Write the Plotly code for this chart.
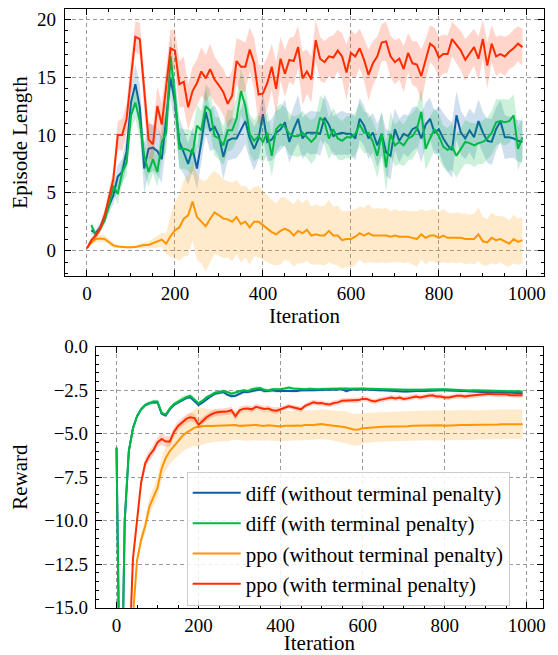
import numpy as np
import plotly.graph_objects as go

iterations = list(range(0, 1000, 10))

# ---------- Episode length (top) ----------
diff_nopen_len = [
    None, 1.75, 1.5, 2.0, 2.9, 3.9, 4.8, 6.4, 6.8, 8.6,
    12.8, 14.4, 12.4, 7.1, 8.8, 8.9, 8.6, 7.9, 11.2, 14.9,
    12.8, 9.4, 8.5, 7.5, 8.8, 7.1, 9.4, 12.0, 10.4, 10.7,
    9.9, 8.1, 9.5, 9.7, 9.7, 10.4, 11.2, 9.7, 8.8, 9.7,
    11.8, 9.4, 9.6, 10.2, 10.5, 11.1, 9.4, 10.5, 11.4, 9.7,
    10.2, 10.2, 10.2, 10.1, 11.5, 10.9, 9.9, 10.1, 10.2, 10.1,
    10.1, 9.7, 11.4, 10.8, 9.7, 10.2, 9.1, 10.1, 8.5, 8.2,
    10.5, 9.5, 10.1, 9.9, 10.5, 10.7, 9.7, 10.9, 11.4, 10.2,
    10.5, 9.7, 9.1, 8.7, 11.7, 10.2, 9.7, 10.4, 9.8, 11.2,
    10.2, 9.5, 9.4, 10.5, 11.2, 9.8, 9.8, 9.7, 9.5, 9.4]
diff_nopen_len_std = [
    None, 0.3, 0.3, 0.4, 0.5, 0.6, 0.8, 1.0, 1.1, 1.3,
    1.5, 1.7, 2.0, 2.1, 2.2, 2.0, 2.1, 2.0, 1.9, 1.8,
    2.0, 2.1, 1.9, 1.8, 1.9, 1.8, 1.9, 2.0, 1.8, 1.9,
    1.8, 1.9, 1.7, 1.8, 1.7, 1.9, 2.0, 1.8, 1.9, 1.8,
    1.9, 1.7, 1.8, 1.9, 1.8, 2.0, 1.8, 1.9, 2.1, 1.8,
    1.7, 1.9, 1.8, 1.9, 2.0, 1.8, 1.7, 1.8, 1.9, 1.8,
    1.8, 1.9, 1.8, 1.7, 1.8, 1.7, 1.9, 1.8, 2.0, 2.1,
    1.8, 1.9, 1.7, 1.8, 1.9, 1.8, 2.1, 1.9, 1.8, 1.9,
    2.0, 2.2, 2.3, 2.4, 2.1, 1.9, 1.8, 1.9, 2.0, 1.9,
    1.8, 1.9, 2.0, 1.9, 1.8, 1.9, 1.8, 1.7, 1.8, 1.8]

diff_pen_len = [
    None, 2.2, 1.3, 1.9, 2.6, 3.9, 5.6, 4.9, 6.8, 7.6,
    11.7, 12.8, 11.2, 8.2, 6.8, 7.9, 6.8, 9.4, 10.2, 16.8,
    13.4, 8.8, 8.8, 8.7, 8.4, 10.8, 10.4, 12.5, 12.1, 9.9,
    9.7, 9.1, 10.4, 10.4, 11.4, 13.8, 12.5, 10.1, 9.5, 9.9,
    9.4, 10.2, 8.2, 10.5, 10.9, 10.7, 10.1, 9.9, 9.9, 10.2,
    9.8, 9.4, 9.8, 11.5, 11.1, 9.7, 10.5, 9.7, 9.5, 9.8,
    9.8, 10.1, 10.9, 10.2, 10.2, 9.4, 8.2, 10.1, 7.2, 10.1,
    9.1, 9.4, 9.1, 9.7, 9.9, 10.5, 12.0, 8.8, 9.7, 10.5,
    9.9, 9.0, 8.7, 9.0, 8.2, 8.8, 9.4, 9.3, 9.1, 9.3,
    9.4, 9.7, 10.2, 11.1, 11.2, 11.1, 11.2, 11.7, 8.8, 9.8]
diff_pen_len_std = [
    None, 0.3, 0.3, 0.3, 0.4, 0.6, 0.7, 0.9, 1.0, 1.1,
    1.3, 1.4, 1.5, 1.4, 1.3, 1.2, 1.3, 1.5, 1.7, 1.8,
    2.0, 1.8, 1.7, 1.8, 1.9, 1.8, 1.7, 1.9, 1.8, 1.7,
    1.8, 1.7, 1.8, 1.7, 1.9, 2.0, 1.8, 1.7, 1.8, 1.9,
    1.8, 1.9, 1.8, 1.9, 1.8, 1.7, 1.8, 1.7, 1.8, 1.9,
    1.8, 1.9, 1.8, 1.9, 2.0, 1.8, 1.9, 1.8, 1.7, 1.8,
    1.9, 1.8, 1.9, 1.8, 1.7, 1.8, 1.9, 2.0, 2.1, 1.9,
    1.8, 1.9, 1.8, 1.9, 2.0, 1.9, 2.0, 1.8, 1.9, 1.8,
    1.9, 1.8, 1.9, 2.0, 1.9, 1.8, 1.9, 1.8, 1.9, 1.8,
    1.9, 1.8, 1.9, 2.0, 1.9, 2.0, 1.9, 1.8, 1.9, 1.8]

ppo_nopen_len = [
    0.2, 0.7, 1.0, 1.05, 1.0, 0.75, 0.45, 0.35, 0.3, 0.28,
    0.28, 0.3, 0.4, 0.48, 0.48, 0.63, 0.75, 0.95, 0.6, 1.26,
    1.75, 2.0, 2.76, 3.05, 4.25, 2.9, 2.5, 2.1, 2.76, 3.3,
    3.05, 2.76, 2.7, 2.5, 2.9, 2.3, 2.5, 2.0, 2.5, 2.5,
    2.2, 1.9, 1.6, 1.4, 1.7, 1.9, 1.7, 1.3, 1.7, 1.5,
    1.8, 1.3, 1.4, 1.3, 1.3, 1.7, 1.3, 1.3, 0.9, 1.0,
    1.0, 1.2, 1.5, 1.3, 1.5, 1.3, 1.3, 1.3, 1.3, 1.2,
    1.3, 1.2, 1.2, 1.2, 1.1, 1.0, 1.4, 1.1, 1.3, 1.3,
    1.1, 1.3, 1.1, 1.1, 1.1, 1.1, 1.0, 1.0, 1.0, 1.4,
    0.8, 0.7, 1.1, 0.9, 1.0, 0.8, 0.6, 1.0, 0.75, 0.9]
ppo_nopen_len_std = [
    0.05, 0.2, 0.3, 0.3, 0.3, 0.25, 0.2, 0.15, 0.1, 0.1,
    0.1, 0.15, 0.2, 0.25, 0.3, 0.4, 0.5, 0.6, 0.9, 1.8,
    2.4, 2.9, 3.3, 3.5, 3.4, 3.7, 3.6, 3.9, 3.8, 3.6,
    3.5, 3.4, 3.3, 3.4, 3.2, 3.3, 3.1, 3.2, 3.0, 3.1,
    3.0, 2.9, 2.8, 2.7, 2.9, 2.7, 2.6, 2.7, 2.8, 2.6,
    2.7, 2.5, 2.6, 2.5, 2.6, 2.7, 2.5, 2.6, 2.5, 2.4,
    2.5, 2.4, 2.3, 2.4, 2.5, 2.3, 2.4, 2.3, 2.4, 2.2,
    2.3, 2.2, 2.3, 2.2, 2.3, 2.4, 2.2, 2.3, 2.2, 2.3,
    2.2, 2.3, 2.2, 2.1, 2.2, 2.1, 2.2, 2.1, 2.2, 2.3,
    2.1, 2.0, 2.2, 2.1, 2.0, 2.1, 2.0, 2.1, 2.0, 2.0]

ppo_pen_len = [
    0.2, 0.9, 1.3, 1.9, 3.0, 4.5, 6.2, 10.0, 10.0, 11.4,
    15.2, 18.5, 18.3, 13.7, 9.6, 9.2, 12.5, 10.9, 14.0, 17.5,
    17.3, 14.4, 14.6, 12.4, 13.8, 14.5, 15.5, 14.9, 15.7, 14.8,
    14.3, 13.7, 12.7, 13.4, 16.4, 15.9, 15.9, 17.4, 16.2, 13.5,
    13.6, 14.5, 15.9, 14.0, 16.6, 15.3, 16.5, 16.4, 17.6, 14.9,
    15.5, 14.8, 18.2, 16.6, 16.3, 16.8, 16.7, 17.3, 16.8, 15.4,
    17.1, 16.8, 17.5, 16.5, 15.2, 16.2, 16.8, 18.0, 18.1, 16.8,
    16.3, 16.6, 15.7, 17.1, 16.2, 16.1, 15.1, 16.5, 17.9, 17.6,
    16.7, 17.0, 17.0, 18.3, 17.8, 17.3, 16.5, 17.1, 17.6, 16.6,
    18.3, 16.0, 17.9, 16.8, 17.0, 16.8, 17.2, 17.5, 17.9, 17.6]
ppo_pen_len_std = [
    0.1, 0.2, 0.3, 0.4, 0.5, 0.7, 0.9, 1.2, 1.4, 1.3,
    1.5, 1.3, 1.4, 1.8, 1.6, 1.5, 1.7, 1.8, 1.7, 1.6,
    1.8, 2.0, 2.2, 2.0, 2.1, 2.0, 2.1, 2.0, 2.2, 2.0,
    1.9, 2.0, 2.1, 2.2, 2.0, 2.3, 2.1, 1.9, 2.2, 2.6,
    2.4, 2.2, 2.0, 2.3, 1.9, 2.0, 1.9, 2.1, 1.8, 2.3,
    1.9, 2.0, 1.8, 1.9, 1.8, 1.7, 1.9, 1.8, 2.0, 2.4,
    2.0, 1.9, 1.7, 1.8, 2.2, 1.9, 1.7, 1.6, 1.7, 1.8,
    1.9, 1.8, 2.0, 1.7, 1.9, 2.0, 2.3, 1.8, 1.6, 1.7,
    1.8, 1.7, 1.6, 1.5, 1.6, 1.7, 1.8, 1.7, 1.6, 1.9,
    1.7, 2.0, 1.6, 1.7, 1.6, 1.7, 1.5, 1.6, 1.5, 1.6]

# ---------- Reward (bottom) ----------
diff_nopen_rew = [
    -5.8, -24.0, -10.0, -6.0, -4.7, -4.0, -3.6, -3.35, -3.25, -3.2,
    -3.2, -3.85, -3.95, -3.6, -3.35, -3.2, -3.05, -2.95, -2.9, -3.1,
    -3.35, -3.2, -3.0, -2.85, -2.7, -2.65, -2.6, -2.75, -2.85, -2.82,
    -2.7, -2.6, -2.6, -2.55, -2.5, -2.45, -2.55, -2.55, -2.5, -2.55,
    -2.54, -2.55, -2.52, -2.57, -2.55, -2.5, -2.52, -2.5, -2.5, -2.48,
    -2.5, -2.48, -2.47, -2.45, -2.46, -2.44, -2.55, -2.48, -2.46, -2.45,
    -2.44, -2.46, -2.47, -2.5, -2.5, -2.5, -2.52, -2.55, -2.56, -2.55,
    -2.58, -2.57, -2.55, -2.55, -2.53, -2.55, -2.53, -2.5, -2.5, -2.5,
    -2.5, -2.52, -2.54, -2.55, -2.55, -2.55, -2.57, -2.58, -2.58, -2.6,
    -2.6, -2.62, -2.62, -2.61, -2.62, -2.63, -2.64, -2.65, -2.66, -2.68]
diff_pen_rew = [
    -5.8, -24.0, -10.0, -6.0, -4.7, -4.0, -3.6, -3.35, -3.25, -3.15,
    -3.15, -3.8, -3.9, -3.55, -3.3, -3.15, -3.0, -2.9, -2.83, -3.05,
    -3.25, -3.1, -2.9, -2.78, -2.65, -2.6, -2.55, -2.6, -2.7, -2.63,
    -2.55, -2.5, -2.55, -2.45, -2.4, -2.37, -2.48, -2.52, -2.45, -2.45,
    -2.44, -2.4, -2.35, -2.4, -2.42, -2.44, -2.44, -2.42, -2.44, -2.44,
    -2.43, -2.42, -2.41, -2.4, -2.4, -2.38, -2.4, -2.42, -2.4, -2.4,
    -2.4, -2.41, -2.42, -2.43, -2.44, -2.44, -2.45, -2.47, -2.48, -2.47,
    -2.5, -2.48, -2.47, -2.48, -2.46, -2.47, -2.46, -2.45, -2.44, -2.44,
    -2.45, -2.46, -2.48, -2.5, -2.5, -2.52, -2.52, -2.5, -2.51, -2.52,
    -2.54, -2.54, -2.55, -2.55, -2.55, -2.55, -2.56, -2.56, -2.57, -2.58]
ppo_nopen_rew = [
    -48.0, -38.0, -28.0, -20.5, -15.5, -12.3, -11.1, -10.3, -9.2, -8.6,
    -8.1, -7.0, -6.4, -6.0, -5.7, -5.4, -5.15, -4.95, -4.8, -4.65,
    -4.6, -4.57, -4.55, -4.56, -4.55, -4.54, -4.52, -4.55, -4.53, -4.5,
    -4.55, -4.53, -4.55, -4.52, -4.5, -4.53, -4.55, -4.52, -4.55, -4.57,
    -4.58, -4.55, -4.57, -4.55, -4.53, -4.54, -4.5, -4.52, -4.5, -4.47,
    -4.45, -4.48, -4.5, -4.53, -4.57, -4.6, -4.64, -4.7, -4.77, -4.76,
    -4.69, -4.67, -4.64, -4.63, -4.62, -4.6, -4.6, -4.6, -4.59, -4.58,
    -4.58, -4.57, -4.55, -4.54, -4.53, -4.52, -4.53, -4.52, -4.53, -4.52,
    -4.54, -4.52, -4.51, -4.52, -4.5, -4.5, -4.5, -4.51, -4.49, -4.48,
    -4.48, -4.47, -4.48, -4.47, -4.46, -4.45, -4.46, -4.45, -4.45, -4.45]
ppo_pen_rew = [
    -45.0, -35.0, -26.0, -18.5, -12.2, -10.0, -7.8, -6.7, -6.25, -5.95,
    -5.5, -5.3, -5.45, -5.45, -4.9, -4.55, -4.35, -4.15, -4.05, -4.1,
    -4.48, -4.25, -4.05, -3.9, -3.8, -3.75, -3.75, -3.72, -3.65, -4.0,
    -3.65, -3.56, -3.55, -3.6, -3.46, -3.52, -3.58, -3.55, -3.65, -3.68,
    -3.6, -3.5, -3.43, -3.48, -3.55, -3.6, -3.4, -3.3, -3.2, -3.25,
    -3.24, -3.3, -3.32, -3.24, -3.2, -3.1, -3.1, -3.07, -3.1, -3.07,
    -3.0, -3.0, -3.1, -3.15, -3.07, -3.0, -2.97, -2.92, -2.97, -2.92,
    -3.0, -2.97, -2.92, -2.86, -2.92, -2.86, -2.82, -2.79, -2.86, -2.86,
    -2.92, -2.92, -2.86, -2.82, -2.82, -2.86, -2.82, -2.79, -2.77, -2.77,
    -2.73, -2.7, -2.73, -2.73, -2.77, -2.73, -2.79, -2.77, -2.79, -2.79]

diff_nopen_rew_std = [
    0.3, 0.5, 0.4, 0.3, 0.2, 0.15, 0.12, 0.1, 0.1, 0.1,
    0.1, 0.1, 0.1, 0.1, 0.1, 0.1, 0.1, 0.1, 0.1, 0.1,
    0.1, 0.1, 0.1, 0.1, 0.1, 0.1, 0.1, 0.1, 0.1, 0.1,
    0.1, 0.1, 0.1, 0.1, 0.1, 0.1, 0.12, 0.1, 0.1, 0.1,
    0.08, 0.08, 0.08, 0.08, 0.08, 0.08, 0.08, 0.08, 0.08, 0.08,
    0.08, 0.08, 0.08, 0.08, 0.08, 0.08, 0.1, 0.08, 0.08, 0.08,
    0.08, 0.08, 0.08, 0.08, 0.08, 0.08, 0.08, 0.08, 0.08, 0.08,
    0.08, 0.08, 0.08, 0.08, 0.08, 0.08, 0.08, 0.08, 0.08, 0.08,
    0.08, 0.08, 0.08, 0.08, 0.08, 0.08, 0.08, 0.08, 0.08, 0.08,
    0.08, 0.08, 0.08, 0.08, 0.08, 0.08, 0.08, 0.08, 0.08, 0.08]
diff_pen_rew_std = [
    0.3, 0.5, 0.4, 0.3, 0.2, 0.15, 0.12, 0.12, 0.12, 0.12,
    0.1, 0.1, 0.1, 0.1, 0.12, 0.14, 0.15, 0.14, 0.12, 0.1,
    0.1, 0.1, 0.1, 0.1, 0.1, 0.1, 0.1, 0.1, 0.1, 0.1,
    0.1, 0.1, 0.1, 0.1, 0.12, 0.1, 0.1, 0.1, 0.1, 0.1,
    0.08, 0.08, 0.08, 0.08, 0.08, 0.08, 0.08, 0.08, 0.08, 0.08,
    0.08, 0.08, 0.08, 0.08, 0.08, 0.08, 0.08, 0.08, 0.08, 0.08,
    0.08, 0.08, 0.08, 0.08, 0.08, 0.08, 0.08, 0.08, 0.08, 0.08,
    0.08, 0.08, 0.08, 0.08, 0.08, 0.08, 0.08, 0.08, 0.08, 0.08,
    0.08, 0.08, 0.08, 0.08, 0.08, 0.08, 0.08, 0.08, 0.08, 0.08,
    0.08, 0.08, 0.08, 0.08, 0.08, 0.08, 0.08, 0.08, 0.08, 0.08]
ppo_nopen_rew_std = [
    0.5, 0.5, 0.5, 0.4, 0.35, 0.3, 0.35, 0.4, 0.5, 0.55,
    0.6, 0.65, 0.7, 0.75, 0.8, 0.85, 0.9, 0.95, 1.0, 1.05,
    1.1, 1.05, 1.0, 0.95, 0.95, 0.9, 0.9, 0.9, 0.85, 0.85,
    0.85, 0.85, 0.85, 0.85, 0.85, 0.85, 0.85, 0.85, 0.85, 0.85,
    0.85, 0.85, 0.85, 0.85, 0.85, 0.85, 0.85, 0.85, 0.85, 0.85,
    0.85, 0.85, 0.85, 0.87, 0.9, 0.9, 0.92, 0.92, 0.92, 0.9,
    0.88, 0.87, 0.86, 0.85, 0.85, 0.85, 0.85, 0.85, 0.85, 0.85,
    0.85, 0.85, 0.85, 0.85, 0.85, 0.85, 0.85, 0.85, 0.87, 0.87,
    0.87, 0.86, 0.86, 0.86, 0.87, 0.86, 0.86, 0.85, 0.85, 0.85,
    0.85, 0.85, 0.85, 0.85, 0.85, 0.85, 0.85, 0.85, 0.85, 0.85]
ppo_pen_rew_std = [
    0.4, 0.4, 0.4, 0.4, 0.4, 0.35, 0.35, 0.3, 0.3, 0.3,
    0.3, 0.35, 0.3, 0.3, 0.3, 0.25, 0.25, 0.25, 0.25, 0.25,
    0.25, 0.2, 0.2, 0.2, 0.2, 0.2, 0.2, 0.2, 0.2, 0.2,
    0.2, 0.18, 0.18, 0.18, 0.18, 0.18, 0.18, 0.18, 0.18, 0.18,
    0.15, 0.15, 0.15, 0.15, 0.15, 0.15, 0.15, 0.15, 0.15, 0.15,
    0.15, 0.15, 0.15, 0.15, 0.15, 0.15, 0.15, 0.15, 0.15, 0.15,
    0.15, 0.15, 0.15, 0.15, 0.15, 0.15, 0.15, 0.15, 0.15, 0.15,
    0.15, 0.15, 0.15, 0.15, 0.15, 0.15, 0.15, 0.15, 0.15, 0.15,
    0.15, 0.15, 0.15, 0.15, 0.15, 0.15, 0.15, 0.15, 0.15, 0.15,
    0.15, 0.15, 0.15, 0.15, 0.15, 0.15, 0.15, 0.15, 0.15, 0.15]

series_names = [
    "diff (without terminal penalty)",
    "diff (with terminal penalty)",
    "ppo (without terminal penalty)",
    "ppo (with terminal penalty)",
]
colors = ["#0C5DA5", "#00B945", "#FF9500", "#FF2C00"]
fills = ["rgba(12,93,165,0.2)", "rgba(0,185,69,0.2)",
         "rgba(255,149,0,0.2)", "rgba(255,44,0,0.2)"]

top_means = [diff_nopen_len, diff_pen_len, ppo_nopen_len, ppo_pen_len]
top_stds = [diff_nopen_len_std, diff_pen_len_std, ppo_nopen_len_std, ppo_pen_len_std]
bot_means = [diff_nopen_rew, diff_pen_rew, ppo_nopen_rew, ppo_pen_rew]
bot_stds = [diff_nopen_rew_std, diff_pen_rew_std, ppo_nopen_rew_std, ppo_pen_rew_std]

FONT = "Liberation Serif"
TICK_SIZE = 19
LABEL_SIZE = 21
fig = go.Figure()


def add_series(mean, std, color, fill, name, xa, ya, legend):
    x = np.array(iterations, dtype=float)
    m = np.array([np.nan if v is None else v for v in mean], dtype=float)
    s = np.array([np.nan if v is None else v for v in std], dtype=float)
    ok = ~np.isnan(m)
    xs, ms, ss = x[ok], m[ok], s[ok]
    fig.add_trace(go.Scatter(
        x=np.concatenate([xs, xs[::-1]]),
        y=np.concatenate([ms + ss, (ms - ss)[::-1]]),
        fill="toself", fillcolor=fill, line=dict(width=0),
        mode="lines", hoverinfo="skip", showlegend=False,
        xaxis=xa, yaxis=ya))
    fig.add_trace(go.Scatter(
        x=xs, y=ms, mode="lines", name=name,
        line=dict(color=color, width=2),
        showlegend=legend, xaxis=xa, yaxis=ya))


for i in range(4):
    add_series(top_means[i], top_stds[i], colors[i], fills[i], series_names[i], "x", "y", False)
for i in range(4):
    add_series(bot_means[i], bot_stds[i], colors[i], fills[i], series_names[i], "x2", "y2", True)

# The page body has an 8px margin, so the figure is drawn 8px smaller and the
# reference pixel positions are shifted by that offset.
OFF = 8
W, H = 558 - OFF, 655 - OFF


def px_x(a, b):
    return [(a - OFF) / W, (b - OFF) / W]


def px_y(top, bottom):
    return [1 - (bottom - OFF) / H, min(1.0, 1 - (top - OFF) / H)]


axis_common = dict(
    showline=True, linecolor="black", linewidth=1.2, mirror="allticks",
    ticks="inside", ticklen=6, tickwidth=1, tickcolor="black",
    showgrid=True, gridcolor="#9a9a9a", gridwidth=1, griddash="4px,3px",
    zeroline=False, automargin=False,
    tickfont=dict(family=FONT, size=TICK_SIZE, color="black"),
)
title_font = dict(family=FONT, size=LABEL_SIZE, color="black")
x_common = dict(axis_common, range=[-50, 1039], tickmode="linear", tick0=0, dtick=200,
                minor=dict(ticks="inside", ticklen=3, dtick=50, tick0=0, tickcolor="black", showgrid=False))

fig.update_layout(
    width=W, height=H,
    margin=dict(l=0, r=0, t=0, b=0),
    paper_bgcolor="white", plot_bgcolor="white",
    font=dict(family=FONT, size=TICK_SIZE, color="black"),
    xaxis=dict(x_common, domain=px_x(65, 544), anchor="y",
               title=dict(text="Iteration", font=title_font, standoff=0)),
    yaxis=dict(axis_common, domain=px_y(9, 276), anchor="x",
               range=[-2.2, 20.9], tickmode="linear", tick0=0, dtick=5, ticklabelstandoff=4,
               minor=dict(ticks="inside", ticklen=3, dtick=1, tick0=0, tickcolor="black", showgrid=False),
               title=dict(text="Episode Length", font=title_font, standoff=6)),
    xaxis2=dict(x_common, domain=px_x(96, 542.7), anchor="y2",
                title=dict(text="Iteration", font=title_font, standoff=0)),
    yaxis2=dict(axis_common, domain=px_y(346.7, 607.7), anchor="x2",
                range=[-15, 0], tickmode="linear", tick0=0, dtick=2.5, tickformat=".1f",
                ticklabelstandoff=3,
                minor=dict(ticks="inside", ticklen=3, dtick=0.5, tick0=0, tickcolor="black", showgrid=False),
                title=dict(text="Reward", font=title_font, standoff=12)),
    legend=dict(x=(186.7 - OFF) / W, y=1 - (471.7 - OFF) / H, xanchor="left", yanchor="top",
                bgcolor="rgba(255,255,255,0.85)", bordercolor="#cccccc", borderwidth=1,
                itemwidth=48,
                font=dict(family=FONT, size=LABEL_SIZE, color="black")),
)

fig.write_html("out.html")
